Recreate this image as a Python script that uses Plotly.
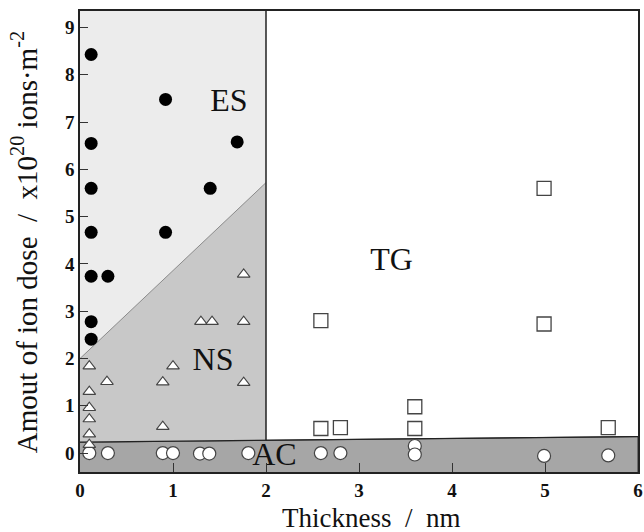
import plotly.graph_objects as go

# ---- data ----
es_x = [0.12, 0.12, 0.12, 0.12, 0.12, 0.12, 0.12, 0.30, 0.92, 0.92, 1.40, 1.69]
es_y = [8.43, 6.55, 5.60, 4.67, 3.74, 2.78, 2.41, 3.74, 7.48, 4.67, 5.60, 6.58]

ns_x = [0.10, 0.10, 0.10, 0.10, 0.10, 0.10, 0.29, 0.89, 0.89, 1.00, 1.30, 1.42, 1.76, 1.76, 1.76]
ns_y = [1.84, 1.30, 0.96, 0.72, 0.40, 0.18, 1.51, 1.50, 0.56, 1.84, 2.78, 2.78, 3.78, 2.78, 1.49]

ac_x = [0.10, 0.30, 0.89, 1.00, 1.29, 1.39, 1.81, 2.59, 2.80, 3.60, 3.60, 4.99, 5.68]
ac_y = [0.00, 0.00, 0.00, 0.00, -0.01, -0.01, 0.00, 0.00, 0.00, 0.15, -0.03, -0.06, -0.05]

tg_x = [2.59, 2.59, 2.80, 3.60, 3.60, 4.99, 4.99, 5.68]
tg_y = [2.80, 0.52, 0.54, 0.98, 0.52, 2.73, 5.60, 0.54]

# region boundaries
x_min, x_max = 0, 6
y_min, y_max = -0.4, 9.35
ns_es_x = [0, 2]          # NS / ES boundary line
ns_es_y = [2.0, 5.72]
ac_top_x = [0, 6]         # AC upper boundary
ac_top_y = [0.23, 0.35]
split_x = 2               # NS|ES  vs  TG separation

region_labels = ["ES", "NS", "TG", "AC"]
label_x = [1.6, 1.43, 3.35, 2.09]
label_y = [7.4, 1.93, 4.04, -0.08]

x_ticks = [0, 1, 2, 3, 4, 5, 6]
y_ticks = [0, 1, 2, 3, 4, 5, 6, 7, 8, 9]

NB = "\u00a0"
x_title = "Thickness" + NB * 2 + "/" + NB * 2 + "nm"
y_title = ("Amout of ion dose" + NB * 2 + "/" + NB * 2 +
           "x10<sup>20</sup>" + NB + "ions·m<sup>-2</sup>")


def ac_at(x):
    return ac_top_y[0] + (ac_top_y[1] - ac_top_y[0]) * (x - ac_top_x[0]) / (ac_top_x[1] - ac_top_x[0])


FONT = "Liberation Serif, Times New Roman, serif"


def tick_text(vals):
    return ["<span style='font-family:\"Liberation Serif\",serif;font-weight:bold'>%d</span>" % v
            for v in vals]


fig = go.Figure()

# AC band
fig.add_trace(go.Scatter(
    x=[x_min, x_max, x_max, x_min], y=[y_min - 1, y_min - 1, ac_top_y[1], ac_top_y[0]],
    fill="toself", fillcolor="#a6a6a6", mode="lines",
    line=dict(color="#333333", width=1), hoverinfo="skip", showlegend=False))
# ES region
fig.add_trace(go.Scatter(
    x=[0, split_x, split_x, 0], y=[ns_es_y[0], ns_es_y[1], y_max + 1, y_max + 1],
    fill="toself", fillcolor="#ececec", mode="lines",
    line=dict(width=0), hoverinfo="skip", showlegend=False))
# NS region
fig.add_trace(go.Scatter(
    x=[0, split_x, split_x, 0], y=[ac_at(0), ac_at(split_x), ns_es_y[1], ns_es_y[0]],
    fill="toself", fillcolor="#c8c8c8", mode="lines",
    line=dict(width=0), hoverinfo="skip", showlegend=False))
# NS/ES boundary line
fig.add_trace(go.Scatter(
    x=ns_es_x, y=ns_es_y, mode="lines", line=dict(color="#8a8a8a", width=1),
    hoverinfo="skip", showlegend=False))
# AC top line
fig.add_trace(go.Scatter(
    x=ac_top_x, y=ac_top_y, mode="lines", line=dict(color="#222222", width=1.2),
    hoverinfo="skip", showlegend=False))
# vertical split line
fig.add_trace(go.Scatter(
    x=[split_x, split_x], y=[ac_at(split_x), y_max + 1], mode="lines",
    line=dict(color="#222222", width=1.5), hoverinfo="skip", showlegend=False))

# markers
fig.add_trace(go.Scatter(
    x=ac_x, y=ac_y, mode="markers", showlegend=False,
    marker=dict(symbol="circle", size=13, color="white", line=dict(color="#444444", width=1.2))))
fig.add_trace(go.Scatter(
    x=tg_x, y=tg_y, mode="markers", showlegend=False,
    marker=dict(symbol="square", size=14, color="white", line=dict(color="#444444", width=1.3))))
fig.add_trace(go.Scatter(
    x=ns_x, y=ns_y, mode="markers", showlegend=False,
    marker=dict(symbol="triangle-up", size=11, color="white", line=dict(color="#444444", width=1.1))))
fig.add_trace(go.Scatter(
    x=es_x, y=es_y, mode="markers", showlegend=False,
    marker=dict(symbol="circle", size=13, color="black", line=dict(color="black", width=0))))

# region labels
fig.add_trace(go.Scatter(
    x=label_x, y=label_y, mode="text", text=region_labels, showlegend=False,
    textfont=dict(family=FONT, size=32, color="#111111"), hoverinfo="skip"))

fig.update_layout(
    width=644, height=532,
    margin=dict(l=80, r=6, t=11, b=60, autoexpand=False),
    paper_bgcolor="white", plot_bgcolor="white",
    font=dict(family=FONT, color="#111111"),
    annotations=[
        dict(text=x_title, xref="paper", yref="paper", x=0.521, y=-0.100,
             xanchor="center", yanchor="middle", showarrow=False,
             font=dict(family=FONT, size=27, color="#111111")),
        dict(text=y_title, xref="paper", yref="paper", x=-0.099, y=0.498,
             xanchor="center", yanchor="middle", showarrow=False, textangle=-90,
             font=dict(family=FONT, size=29, color="#111111")),
    ],
)
fig.update_xaxes(
    range=[x_min, x_max], tickvals=x_ticks, ticktext=tick_text(x_ticks),
    ticks="inside", ticklen=9, tickcolor="#333333",
    showline=True, linecolor="#222222", linewidth=1.5, mirror=True, showgrid=False, zeroline=False,
    automargin=False, tickfont=dict(family=FONT, size=19, color="#111111", weight="bold"),
)
fig.update_yaxes(
    range=[y_min, y_max], tickvals=y_ticks, ticktext=tick_text(y_ticks),
    ticks="inside", ticklen=8, tickcolor="#333333",
    showline=True, linecolor="#222222", linewidth=1.5, mirror=True, showgrid=False, zeroline=False,
    automargin=False, tickfont=dict(family=FONT, size=19, color="#111111", weight="bold"),
)

fig.write_html("out.html", config={"displayModeBar": False},
               post_script="document.body.style.margin='0';document.body.style.padding='0';")
